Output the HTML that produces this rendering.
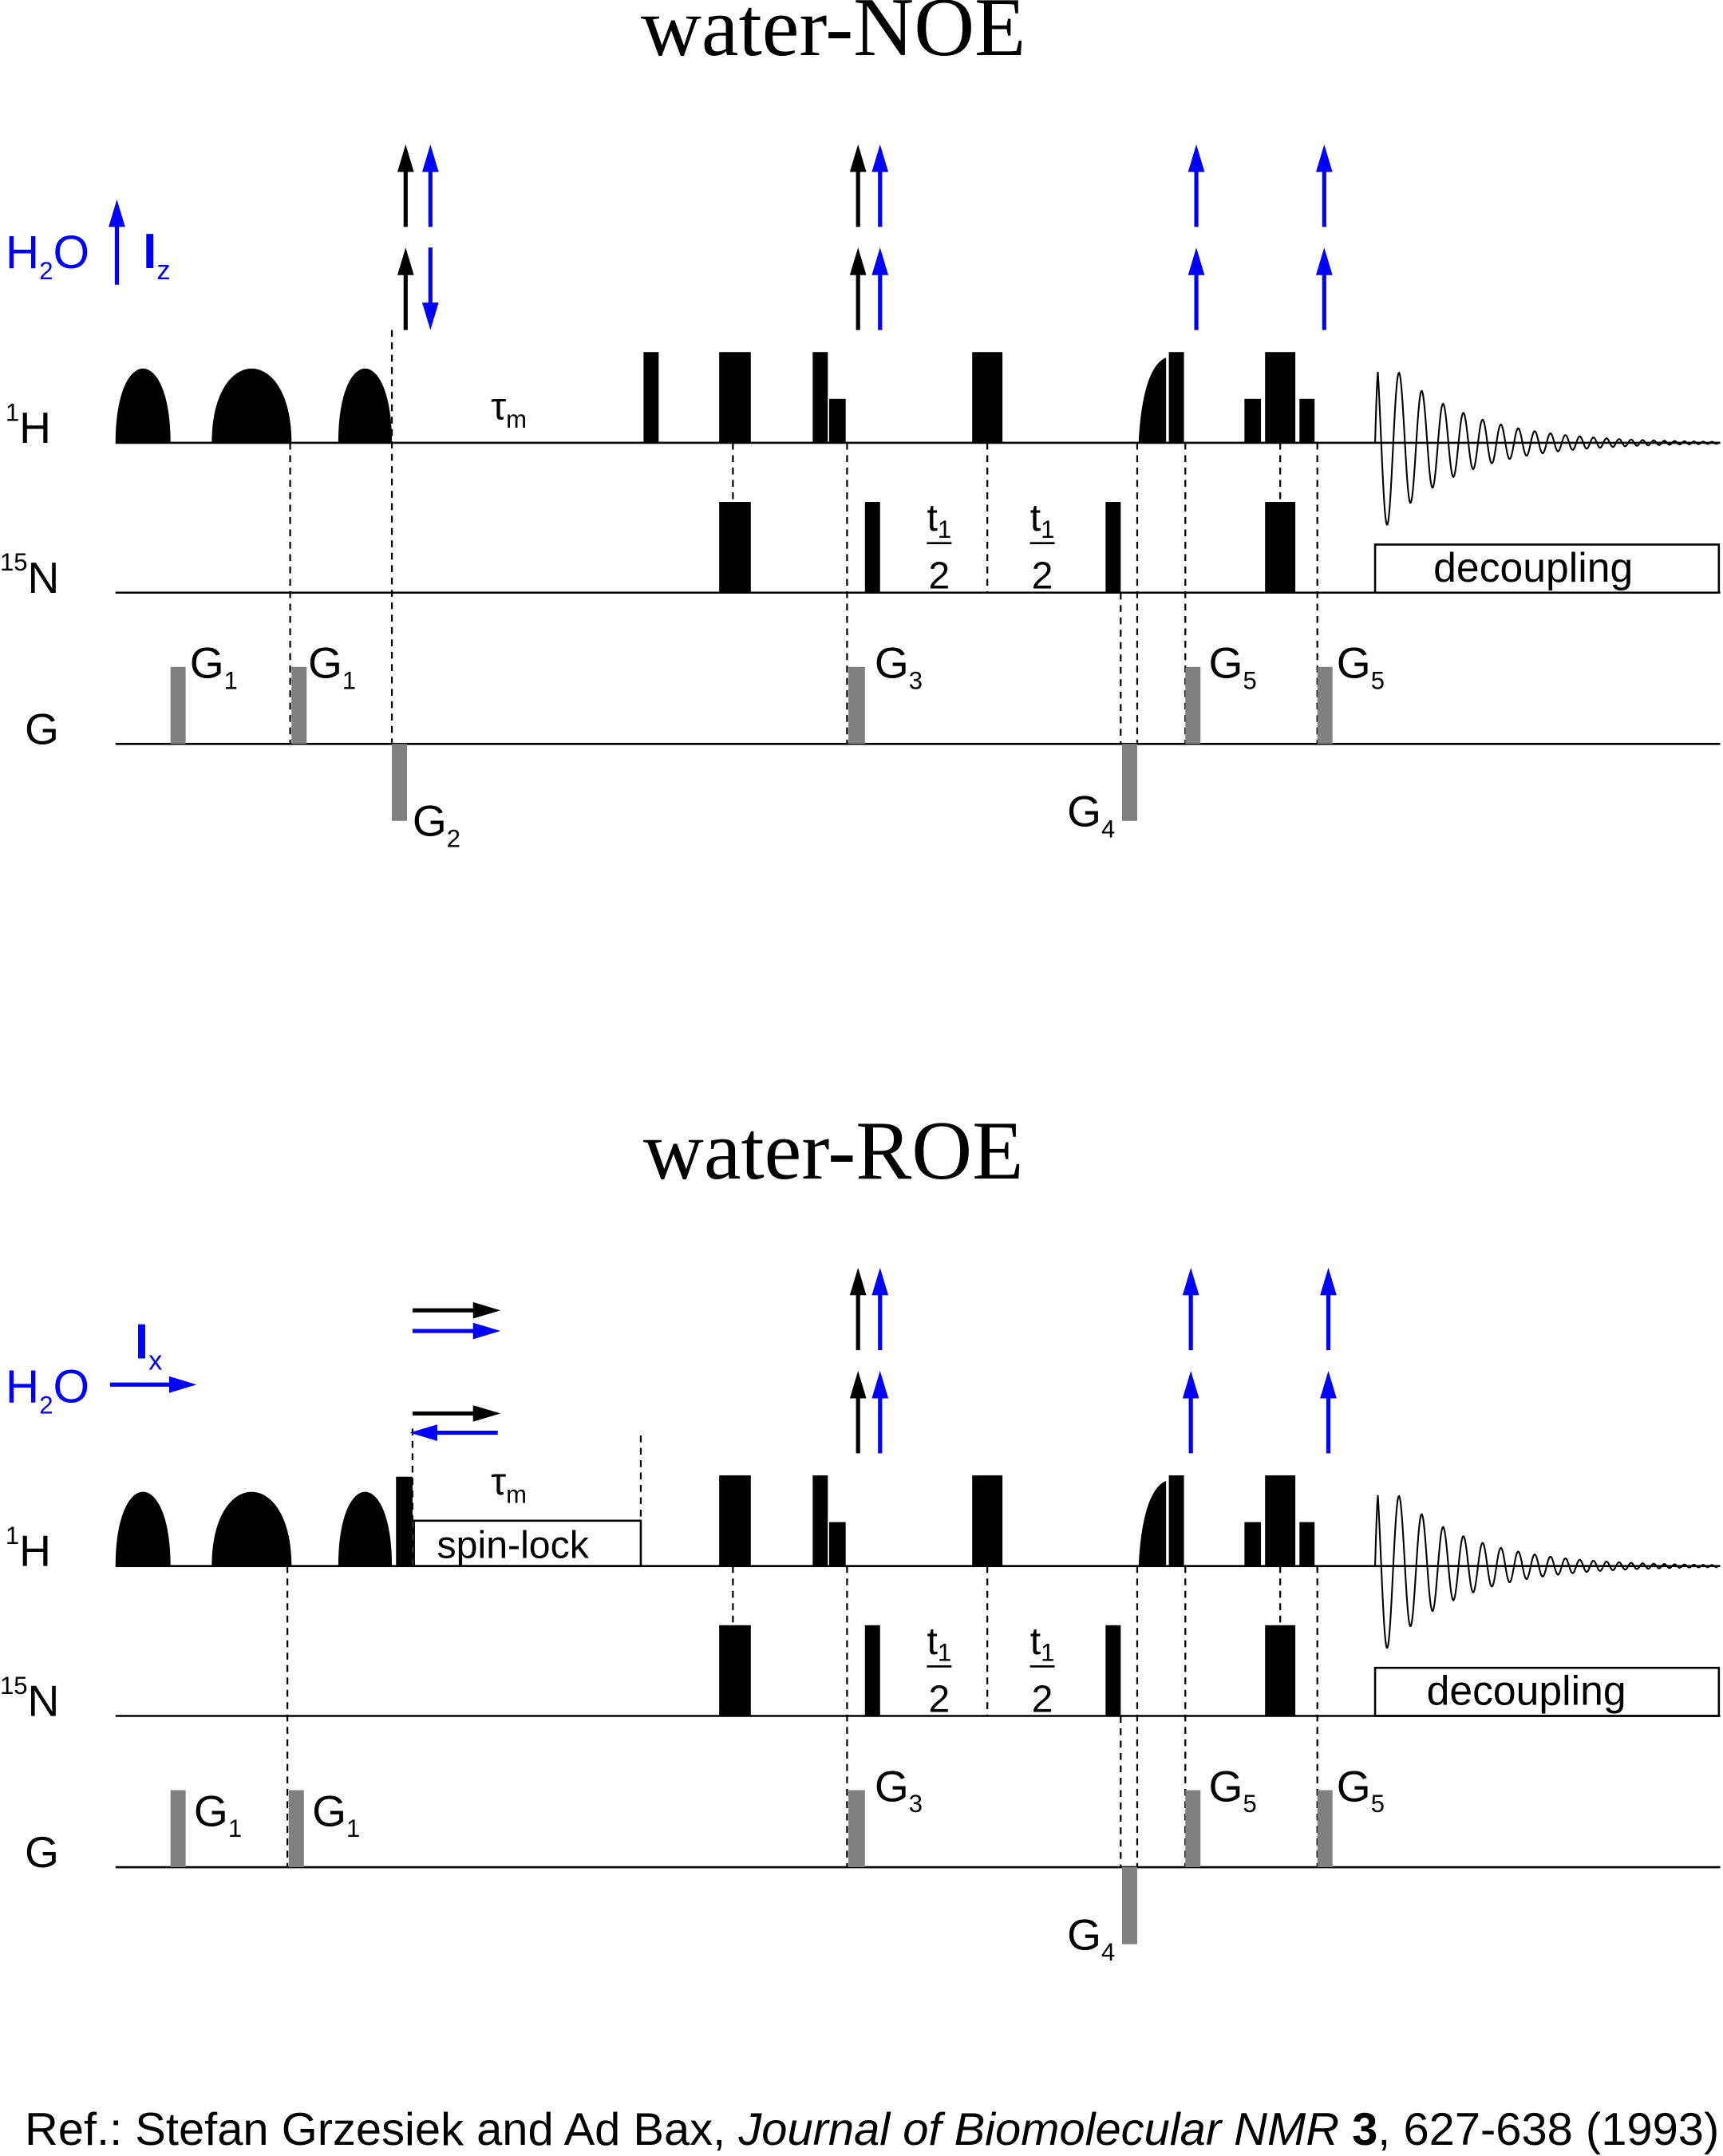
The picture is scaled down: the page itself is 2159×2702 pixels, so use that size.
<!DOCTYPE html>
<html><head><meta charset="utf-8"><style>
html,body{margin:0;padding:0;background:#fff}
svg{display:block}
text{font-family:"Liberation Sans",sans-serif}
.t{font-family:"Liberation Serif",serif;font-size:61px}
.l{font-size:32px}
.s{font-size:18px}
</style></head><body>
<svg id="svg" width="2159" height="2702" viewBox="0 0 1253 1568" xmlns="http://www.w3.org/2000/svg">
<g id="top"></g>
<g id="bot"></g>
<text x="18" y="1560" style="font-size:33.6px">Ref.: Stefan Grzesiek and Ad Bax, <tspan font-style="italic">Journal of Biomolecular NMR</tspan> <tspan font-weight="bold">3</tspan>, 627-638 (1993)</text>
</svg>
<script>
const NS="http://www.w3.org/2000/svg";
function el(p,tag,attrs,txt){const e=document.createElementNS(NS,tag);for(const k in attrs)e.setAttribute(k,attrs[k]);if(txt!==undefined)e.innerHTML=txt;p.appendChild(e);return e;}
function panel(g,o,roe){
  const H=322+o,N=431+o,G=541+o;
  el(g,'text',{x:606,y:(roe?857:40),'text-anchor':'middle',class:'t'},roe?'water-ROE':'water-NOE');
  [H,N,G].forEach(y=>el(g,'line',{x1:84,y1:y,x2:1251,y2:y,stroke:'#000','stroke-width':1.5}));
  el(g,'text',{x:4,y:H,class:'l'},'<tspan class="s" dy="-16">1</tspan><tspan dy="16">H</tspan>');
  el(g,'text',{x:0,y:N,class:'l'},'<tspan class="s" dy="-16">15</tspan><tspan dy="16">N</tspan>');
  el(g,'text',{x:18,y:G-0,class:'l'},'G');
  [[84,124],[154,212],[246,285]].forEach(([a,b])=>{el(g,'path',{d:`M${a},${H} C${a},${H-72} ${b},${H-72} ${b},${H} Z`,fill:'#000'});});
  const rect=(x1,x2,y1,y2,f)=>el(g,'rect',{x:x1,y:y1,width:x2-x1,height:y2-y1,fill:f||'#000'});
  const T=H-66,S=H-32;
  if(!roe) rect(468,479,T,H);
  else rect(288,300,T+1,H);
  rect(523,546,T,H);rect(591,602,T,H);rect(603,615,S,H);rect(707,729,T,H);
  el(g,'path',{d:`M828,${H} C830,${H-40} 838,${H-58} 848,${H-62} L848,${H} Z`,fill:'#000'});
  rect(850,861,T,H);rect(905,917,S,H);rect(920,942,T,H);rect(945,956,S,H);
  const NT=N-66;
  rect(523,546,NT,N);rect(629,640,NT,N);rect(804,815,NT,N);rect(920,942,NT,N);
  el(g,'text',{x:683,y:N-45,'text-anchor':'middle',style:'font-size:28px'},'t<tspan class="s" dy="5">1</tspan>');
  el(g,'text',{x:683,y:N-3,'text-anchor':'middle',style:'font-size:28px'},'2');
  el(g,'line',{x1:674,y1:N-36,x2:692,y2:N-36,stroke:'#000','stroke-width':1.5});
  el(g,'text',{x:758,y:N-45,'text-anchor':'middle',style:'font-size:28px'},'t<tspan class="s" dy="5">1</tspan>');
  el(g,'text',{x:758,y:N-3,'text-anchor':'middle',style:'font-size:28px'},'2');
  el(g,'line',{x1:749,y1:N-36,x2:767,y2:N-36,stroke:'#000','stroke-width':1.5});
  el(g,'rect',{x:1000,y:N-35,width:250,height:35,fill:'none',stroke:'#000','stroke-width':1.5});
  el(g,'text',{x:(roe?1110:1115),y:N-8,'text-anchor':'middle',style:'font-size:30px'},'decoupling');
  let d=`M1000,${H}`;
  for(let x=1000;x<=1250;x+=0.5){const t=x-1000;const P=18-t*0.03;const y=H-70*Math.exp(-t/55)*Math.cos(2*Math.PI*t/Math.max(P,10))*(t<2?t/2:1);d+=` L${x},${y.toFixed(2)}`;}
  el(g,'path',{d:d,fill:'none',stroke:'#000','stroke-width':1.2});
  const dash=(x,y1,y2)=>el(g,'line',{x1:x,y1:y1,x2:x,y2:y2,stroke:'#000','stroke-width':1.3,'stroke-dasharray':'5,4'});
  if(!roe){dash(211,H,G);dash(285,240,G);}else{dash(209,H,G);dash(300,H-100,H);dash(466,H-95,H-33);}
  dash(533,H,NT);dash(616,H,G);dash(718,H,N);dash(815,N,G);dash(827,H,G);dash(862,H,G);dash(931,H,NT);dash(958,H,G);
  const gr='#808080',GT=G-56,GB=G+56;
  const gl=(x,y,n)=>el(g,'text',{x:x,y:y,class:'l'},`G<tspan class="s" dy="8">${n}</tspan>`);
  if(!roe){rect(124,135,GT,G,gr);rect(212,223,GT,G,gr);rect(285,296,G,GB,gr);gl(138,G-48,1);gl(224,G-48,1);gl(300,G+67,2);}
  else{rect(124,135,GT,G,gr);rect(210,221,GT,G,gr);gl(141,G-30,1);gl(227,G-30,1);}
  rect(617,629,GT,G,gr);rect(816,827,G,GB,gr);rect(862,873,GT,G,gr);rect(958,969,GT,G,gr);
  gl(636,G-48,3);gl(776,G+60,4);gl(879,G-48,5);gl(972,G-48,5);
  const av=(x,y1,y2,c)=>{el(g,'line',{x1:x,y1:y1,x2:x,y2:y2+(y2<y1?8:-8),stroke:c,'stroke-width':3});const s=y2<y1?1:-1;el(g,'path',{d:`M${x},${y2} L${x-6},${y2+s*20} L${x+6},${y2+s*20} Z`,fill:c});};
  const ah=(y,x1,x2,c)=>{el(g,'line',{x1:x1,y1:y,x2:x2+(x2>x1?-8:8),y2:y,stroke:c,'stroke-width':3});const s=x2>x1?-1:1;el(g,'path',{d:`M${x2},${y} L${x2+s*20},${y-6} L${x2+s*20},${y+6} Z`,fill:c});};
  const B='#0000ff';
  const r1=H-157,r1t=H-217,r2=H-82,r2t=H-142;
  if(!roe){
    av(295,r1,r1t,'#000');av(313,r1,r1t,B);av(295,r2,r2t,'#000');av(313,r2t,r2,B);
    av(624,r1,r1t,'#000');av(640,r1,r1t,B);av(624,r2,r2t,'#000');av(640,r2,r2t,B);
    av(870,r1,r1t,B);av(870,r2,r2t,B);av(963,r1,r1t,B);av(963,r2,r2t,B);
    el(g,'text',{x:4,y:195,fill:B,style:'font-size:34px'},'H<tspan class="s" dy="8">2</tspan><tspan dy="-8">O</tspan>');
    av(85,207,145,B);
    el(g,'text',{x:104,y:195,fill:B,style:'font-size:36px;font-weight:bold'},'I<tspan style="font-size:20px;font-weight:normal" dy="8">z</tspan>');
    el(g,'text',{x:357,y:305,style:'font-size:28px'},'τ<tspan class="s" dy="6">m</tspan>');
  } else {
    av(624,r1,r1t,'#000');av(640,r1,r1t,B);av(624,r2,r2t,'#000');av(640,r2,r2t,B);
    av(866,r1,r1t,B);av(866,r2,r2t,B);av(966,r1,r1t,B);av(966,r2,r2t,B);
    ah(953,300,364,'#000');ah(968,300,364,B);ah(1028,300,364,'#000');ah(1042,362,298,B);
    el(g,'text',{x:4,y:1020,fill:B,style:'font-size:34px'},'H<tspan class="s" dy="8">2</tspan><tspan dy="-8">O</tspan>');
    ah(1007,80,143,B);
    el(g,'text',{x:98,y:988,fill:B,style:'font-size:36px;font-weight:bold'},'I<tspan style="font-size:20px;font-weight:normal" dy="8">x</tspan>');
    el(g,'text',{x:357,y:1087,style:'font-size:28px'},'τ<tspan class="s" dy="6">m</tspan>');
    el(g,'rect',{x:301,y:1106,width:165,height:33,fill:'none',stroke:'#000','stroke-width':1.5});
    el(g,'text',{x:373,y:1133,'text-anchor':'middle',style:'font-size:28px'},'spin-lock');
  }
}
panel(document.getElementById('top'),0,false);
panel(document.getElementById('bot'),817,true);
</script>
</body></html>
